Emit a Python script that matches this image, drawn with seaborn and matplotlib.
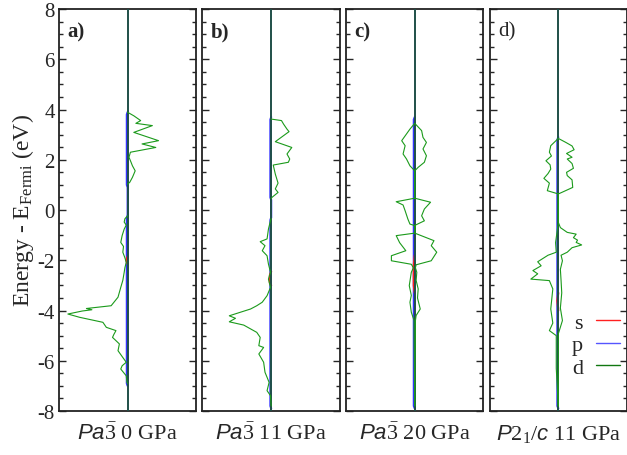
import seaborn as sns
import matplotlib.pyplot as plt
from matplotlib import font_manager
import pandas as pd
import numpy as np

# d-orbital DOS, (energy, dos) pairs; right side / left side of each panel
a_right = [(3.89, 0), (3.75, 0.09), (3.56, 0.19), (3.45, 0.12), (3.36, 0.36), (3.09, 0.09), (2.76, 0.45),
           (2.63, 0.21), (2.49, 0.41), (2.30, 0.04), (2.10, 0.02), (1.90, 0.05), (1.76, 0.07), (1.56, 0.11),
           (1.30, 0.07), (1.10, 0.03), (1.03, 0)]
a_left = [(-0.23, 0), (-0.35, -0.04), (-0.48, -0.05), (-0.60, -0.02), (-0.76, -0.05), (-1.02, -0.08),
          (-1.29, -0.10), (-1.45, -0.06), (-1.68, -0.07), (-1.90, -0.04), (-2.08, -0.02), (-2.30, -0.04),
          (-2.48, -0.05), (-2.80, -0.07), (-3.08, -0.10), (-3.47, -0.14), (-3.81, -0.24), (-3.92, -0.60),
          (-3.97, -0.52), (-4.02, -0.66), (-4.14, -0.87), (-4.27, -0.70), (-4.47, -0.36), (-4.67, -0.31),
          (-4.80, -0.17), (-4.95, -0.20), (-5.07, -0.22), (-5.33, -0.12), (-5.60, -0.14), (-5.87, -0.07),
          (-6.06, -0.02), (-6.20, -0.08), (-6.33, -0.10), (-6.60, -0.02), (-6.86, -0.01), (-6.90, 0)]

b_right = [(3.62, 0), (3.56, 0.15), (3.42, 0.18), (3.22, 0.23), (3.12, 0.26), (2.72, 0.06), (2.49, 0.30),
           (2.23, 0.23), (2.03, 0.27), (1.90, 0.25), (1.79, 0.03), (1.43, 0.06), (1.07, 0.10), (0.84, 0.06),
           (0.70, 0.10), (0.50, 0.01), (0.45, 0)]
b_left = [(-0.35, 0), (-0.42, -0.01), (-0.76, -0.04), (-1.15, -0.06), (-1.26, -0.16), (-1.42, -0.09),
          (-1.62, -0.13), (-1.82, -0.06), (-2.15, -0.04), (-2.48, -0.01), (-2.75, -0.04), (-3.08, -0.01),
          (-3.41, -0.06), (-3.67, -0.13), (-3.81, -0.21), (-3.94, -0.30), (-4.21, -0.61), (-4.31, -0.52),
          (-4.45, -0.61), (-4.58, -0.40), (-4.87, -0.21), (-5.07, -0.16), (-5.40, -0.18), (-5.47, -0.11),
          (-5.73, -0.18), (-6.06, -0.11), (-6.46, -0.09), (-6.86, -0.03), (-7.19, -0.06), (-7.39, -0.01),
          (-7.80, 0)]

c_right = [(3.45, 0), (3.16, 0.10), (2.89, 0.12), (2.69, 0.17), (2.43, 0.12), (2.16, 0.17), (1.90, 0.14),
           (1.70, 0.05), (1.56, 0), (0.47, 0), (0.31, 0.23), (0.04, 0.14), (-0.23, 0.10), (-0.43, 0.14),
           (-0.60, 0.01), (-0.92, 0), (-1.22, 0.28), (-1.42, 0.24), (-1.68, 0.32), (-2.02, 0.24),
           (-2.18, 0.02), (-2.30, 0.01), (-2.48, 0.03), (-2.80, 0.02), (-3.14, 0.05), (-3.50, 0.04),
           (-3.94, 0.08), (-4.20, 0.02), (-4.40, 0.01), (-5.00, 0.01), (-6.00, 0.005), (-7.80, 0)]
c_left = [(3.45, 0), (3.22, -0.07), (2.76, -0.19), (2.56, -0.14), (2.23, -0.17), (2.03, -0.12), (1.76, -0.07),
          (1.56, 0), (0.47, 0), (0.33, -0.27), (0.20, -0.17), (-0.03, -0.14), (-0.36, -0.10), (-0.56, -0.07),
          (-0.62, 0), (-0.92, 0), (-1.02, -0.27), (-1.30, -0.22), (-1.62, -0.13), (-1.82, -0.34),
          (-2.02, -0.34), (-2.16, -0.05), (-2.30, -0.02), (-2.48, -0.05), (-3.01, -0.08), (-3.40, -0.05),
          (-3.67, -0.07), (-4.07, -0.05), (-4.40, -0.01), (-5.00, -0.01), (-7.80, 0)]

d_right = [(2.85, 0), (2.69, 0.11), (2.55, 0.20), (2.40, 0.23), (2.25, 0.12), (2.10, 0.20), (2.03, 0.13),
           (1.85, 0.20), (1.66, 0.22), (1.50, 0.12), (1.37, 0.13), (1.20, 0.20), (0.90, 0.21), (0.70, 0.05),
           (0.64, 0), (-0.49, 0), (-0.70, 0.03), (-0.89, 0.13), (-0.96, 0.26), (-1.10, 0.22), (-1.20, 0.28),
           (-1.29, 0.26), (-1.39, 0.34), (-1.50, 0.20), (-1.68, 0.13), (-1.80, 0.04), (-2.02, 0.06),
           (-2.36, 0.03), (-2.80, 0.04), (-3.30, 0.05), (-3.90, 0.03), (-4.40, 0.06), (-4.93, 0), (-7.80, 0)]
d_left = [(2.85, 0), (2.56, -0.11), (2.30, -0.13), (2.15, -0.10), (1.96, -0.18), (1.80, -0.12), (1.63, -0.11),
          (1.45, -0.15), (1.26, -0.21), (1.07, -0.13), (0.77, -0.16), (0.64, 0), (-0.50, 0), (-0.90, -0.02),
          (-1.30, -0.04), (-1.68, -0.03), (-1.80, -0.15), (-2.06, -0.30), (-2.22, -0.25), (-2.41, -0.37),
          (-2.54, -0.30), (-2.75, -0.40), (-2.81, -0.13), (-3.14, -0.08), (-3.94, -0.11), (-4.50, -0.08),
          (-4.80, -0.13), (-5.00, -0.03), (-6.30, -0.03), (-7.80, 0)]

# p (blue) and s (red) DOS, very small
a_p = [(3.9, 0), (3.8, -0.012), (1.0, -0.012), (0.9, 0), (-0.2, 0), (-0.3, -0.012), (-6.9, -0.012), (-7.0, 0)]
b_p = [(3.7, 0), (3.6, -0.012), (0.5, -0.012), (0.4, 0), (-0.3, 0), (-0.4, -0.012), (-7.8, -0.012), (-7.9, 0)]
c_p = [(3.7, 0), (3.6, -0.014), (-7.8, -0.014), (-7.9, 0)]
d_p = [(2.9, 0), (2.8, -0.014), (-7.8, -0.014), (-7.9, 0)]
a_s = [(-1.85, 0), (-2.0, -0.02), (-2.15, 0)]
b_s = [(-2.45, 0), (-2.6, -0.02), (-2.9, -0.02), (-3.0, 0)]
c_s = [(-1.8, 0), (-2.2, -0.015), (-3.0, -0.015), (-3.3, 0)]
d_s = [(-3.3, 0), (-3.6, -0.015), (-4.0, 0)]

panel_tags = ["a)", "b)", "c)", "d)"]
tag_weights = ["bold", "bold", "bold", "normal"]
phase_labels = [r"$\mathit{Pa\bar{3}}$ 0 GPa", r"$\mathit{Pa\bar{3}}$ 11 GPa",
                r"$\mathit{Pa\bar{3}}$ 20 GPa", r"$\mathit{P2_{\mathit{1}}/c}$ 11 GPa"]

# pick a Times-like serif that is really installed
names = {f.name for f in font_manager.fontManager.ttflist}
serif = next((n for n in ['Liberation Serif', 'Nimbus Roman', 'Times New Roman', 'DejaVu Serif'] if n in names),
             'DejaVu Serif')
sans = 'Liberation Sans' if 'Liberation Sans' in names else 'DejaVu Sans'

sns.set_style("ticks")
plt.rcParams['font.family'] = [serif, 'DejaVu Serif']
plt.rcParams['mathtext.fontset'] = 'custom'
plt.rcParams['mathtext.rm'] = serif
plt.rcParams['mathtext.it'] = sans + ':italic'
plt.rcParams['mathtext.bf'] = serif + ':bold'
plt.rcParams['axes.unicode_minus'] = False

green = '#1b9a1b'
center_col = '#1f4f48'

fig, axes = plt.subplots(1, 4, figsize=(6.27, 4.56), dpi=100, sharey=True)
fig.subplots_adjust(left=0.094, right=1.0, top=0.978, bottom=0.0965, wspace=0.045)

panels = [(a_right, a_left, a_p, a_s), (b_right, b_left, b_p, b_s),
          (c_right, c_left, c_p, c_s), (d_right, d_left, d_p, d_s)]

for i, (ax, (right, left, p, s)) in enumerate(zip(axes, panels)):
    pdf = pd.DataFrame(p, columns=['E', 'dos'])
    sdf = pd.DataFrame(s, columns=['E', 'dos'])
    sns.lineplot(x='dos', y='E', data=pdf, sort=False, estimator=None, color='#3333ff', lw=1.5, ax=ax,
                 zorder=2, label='p' if i == 3 else None)
    sns.lineplot(x='dos', y='E', data=sdf, sort=False, estimator=None, color='#ff2020', lw=1.5, ax=ax,
                 zorder=2, label='s' if i == 3 else None)
    ax.axvline(0, color=center_col, lw=1.4, zorder=3)
    for k, side in enumerate([right, left]):
        df = pd.DataFrame(side, columns=['E', 'dos'])
        sns.lineplot(x='dos', y='E', data=df, sort=False, estimator=None, color=green, lw=0.8, ax=ax,
                     zorder=4, label='d' if (i == 3 and k == 0) else None)
    ax.set_xlim(-1, 1)
    ax.set_ylim(-8, 8)
    ax.set_xticks([])
    ax.set_yticks(np.arange(-8, 9, 2))
    ax.set_yticks(np.arange(-8, 8.1, 0.5), minor=True)
    ax.tick_params(axis='y', which='both', direction='in', left=True, right=True, labelsize=15, pad=3)
    ax.tick_params(axis='y', which='major', length=5, width=1)
    ax.tick_params(axis='y', which='minor', length=3, width=1)
    for sp in ax.spines.values():
        sp.set_linewidth(1.3)
        sp.set_color('#222222')
    ax.set_xlabel(phase_labels[i], fontsize=16, labelpad=8)
    ax.set_ylabel('')
    ax.text(0.06, 0.97, panel_tags[i], transform=ax.transAxes, ha='left', va='top',
            fontsize=15, fontweight=tag_weights[i])

axes[0].set_ylabel(r"Energy - E$_{\mathrm{Fermi}}$ (eV)", fontsize=17, labelpad=1)

h, l = axes[3].get_legend_handles_labels()
order = [l.index('s'), l.index('p'), l.index('d')]
leg = axes[3].legend([h[j] for j in order], [l[j] for j in order], loc='upper right',
                     bbox_to_anchor=(1.06, 0.285), frameon=False, markerfirst=False, fontsize=16,
                     handlelength=1.05, handletextpad=0.6, labelspacing=0.1, borderpad=0.2)
for line, c in zip(leg.get_lines(), ['#ff2020', '#5555ff', '#117711']):
    line.set_color(c)
    line.set_linewidth(1.0)

plt.savefig('out.png', dpi=100)
